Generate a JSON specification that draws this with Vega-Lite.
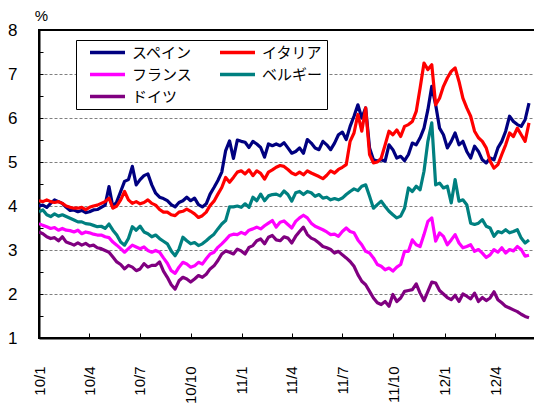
{
  "$schema": "https://vega.github.io/schema/vega-lite/v6.json",
  "width": 500,
  "height": 308,
  "autosize": {"type": "none"},
  "padding": {"left": 39, "top": 30, "right": 0, "bottom": 65},
  "background": "white",
  "config": {
    "view": {"stroke": "black", "strokeWidth": 2},
    "font": "Liberation Sans"
  },
  "data": {
    "values": [
      {"d": "2010-01-01", "スペイン": 4.00, "イタリア": 4.12, "フランス": 3.60, "ベルギー": 3.87, "ドイツ": 3.41},
      {"d": "2010-01-08", "スペイン": 4.02, "イタリア": 4.10, "フランス": 3.56, "ベルギー": 3.91, "ドイツ": 3.37},
      {"d": "2010-01-15", "スペイン": 3.97, "イタリア": 4.14, "フランス": 3.53, "ベルギー": 3.80, "ドイツ": 3.30},
      {"d": "2010-01-22", "スペイン": 4.06, "イタリア": 4.10, "フランス": 3.49, "ベルギー": 3.76, "ドイツ": 3.26},
      {"d": "2010-01-29", "スペイン": 4.14, "イタリア": 4.08, "フランス": 3.51, "ベルギー": 3.82, "ドイツ": 3.28},
      {"d": "2010-02-05", "スペイン": 4.10, "イタリア": 4.10, "フランス": 3.45, "ベルギー": 3.77, "ドイツ": 3.21},
      {"d": "2010-02-12", "スペイン": 4.06, "イタリア": 4.06, "フランス": 3.49, "ベルギー": 3.80, "ドイツ": 3.30},
      {"d": "2010-02-19", "スペイン": 3.97, "イタリア": 4.00, "フランス": 3.45, "ベルギー": 3.76, "ドイツ": 3.18},
      {"d": "2010-02-26", "スペイン": 3.90, "イタリア": 3.97, "フランス": 3.44, "ベルギー": 3.72, "ドイツ": 3.15},
      {"d": "2010-03-05", "スペイン": 3.91, "イタリア": 3.95, "フランス": 3.41, "ベルギー": 3.68, "ドイツ": 3.11},
      {"d": "2010-03-12", "スペイン": 3.87, "イタリア": 3.95, "フランス": 3.45, "ベルギー": 3.64, "ドイツ": 3.16},
      {"d": "2010-03-19", "スペイン": 3.90, "イタリア": 3.97, "フランス": 3.37, "ベルギー": 3.64, "ドイツ": 3.11},
      {"d": "2010-03-26", "スペイン": 3.85, "イタリア": 3.92, "フランス": 3.41, "ベルギー": 3.60, "ドイツ": 3.15},
      {"d": "2010-04-02", "スペイン": 3.87, "イタリア": 3.97, "フランス": 3.39, "ベルギー": 3.59, "ドイツ": 3.09},
      {"d": "2010-04-09", "スペイン": 3.91, "イタリア": 4.00, "フランス": 3.36, "ベルギー": 3.56, "ドイツ": 3.11},
      {"d": "2010-04-16", "スペイン": 3.92, "イタリア": 4.02, "フランス": 3.34, "ベルギー": 3.53, "ドイツ": 3.05},
      {"d": "2010-04-23", "スペイン": 3.97, "イタリア": 4.06, "フランス": 3.34, "ベルギー": 3.54, "ドイツ": 3.03},
      {"d": "2010-04-30", "スペイン": 4.02, "イタリア": 4.10, "フランス": 3.30, "ベルギー": 3.49, "ドイツ": 2.99},
      {"d": "2010-05-07", "スペイン": 4.44, "イタリア": 4.18, "フランス": 3.28, "ベルギー": 3.59, "ドイツ": 2.95},
      {"d": "2010-05-14", "スペイン": 3.97, "イタリア": 3.95, "フランス": 3.18, "ベルギー": 3.45, "ドイツ": 2.84},
      {"d": "2010-05-21", "スペイン": 4.10, "イタリア": 4.00, "フランス": 3.11, "ベルギー": 3.34, "ドイツ": 2.73},
      {"d": "2010-05-28", "スペイン": 4.33, "イタリア": 4.14, "フランス": 3.03, "ベルギー": 3.18, "ドイツ": 2.67},
      {"d": "2010-06-04", "スペイン": 4.56, "イタリア": 4.33, "フランス": 2.95, "ベルギー": 3.11, "ドイツ": 2.57},
      {"d": "2010-06-11", "スペイン": 4.60, "イタリア": 4.14, "フランス": 3.03, "ベルギー": 3.26, "ドイツ": 2.65},
      {"d": "2010-06-18", "スペイン": 4.90, "イタリア": 4.06, "フランス": 3.11, "ベルギー": 3.53, "ドイツ": 2.61},
      {"d": "2010-06-25", "スペイン": 4.48, "イタリア": 4.10, "フランス": 3.07, "ベルギー": 3.45, "ドイツ": 2.53},
      {"d": "2010-07-02", "スペイン": 4.60, "イタリア": 4.05, "フランス": 3.03, "ベルギー": 3.54, "ドイツ": 2.57},
      {"d": "2010-07-09", "スペイン": 4.69, "イタリア": 4.08, "フランス": 3.07, "ベルギー": 3.41, "ドイツ": 2.69},
      {"d": "2010-07-16", "スペイン": 4.73, "イタリア": 4.14, "フランス": 2.99, "ベルギー": 3.37, "ドイツ": 2.61},
      {"d": "2010-07-23", "スペイン": 4.48, "イタリア": 4.06, "フランス": 2.95, "ベルギー": 3.30, "ドイツ": 2.65},
      {"d": "2010-07-30", "スペイン": 4.29, "イタリア": 4.02, "フランス": 2.99, "ベルギー": 3.34, "ドイツ": 2.65},
      {"d": "2010-08-06", "スペイン": 4.20, "イタリア": 3.92, "フランス": 2.95, "ベルギー": 3.26, "ドイツ": 2.73},
      {"d": "2010-08-13", "スペイン": 4.17, "イタリア": 3.86, "フランス": 2.82, "ベルギー": 3.20, "ドイツ": 2.52},
      {"d": "2010-08-20", "スペイン": 4.12, "イタリア": 3.86, "フランス": 2.70, "ベルギー": 3.14, "ドイツ": 2.38},
      {"d": "2010-08-27", "スペイン": 4.03, "イタリア": 3.80, "フランス": 2.53, "ベルギー": 2.98, "ドイツ": 2.21},
      {"d": "2010-09-03", "スペイン": 3.98, "イタリア": 3.78, "フランス": 2.47, "ベルギー": 2.87, "ドイツ": 2.11},
      {"d": "2010-09-10", "スペイン": 4.08, "イタリア": 3.86, "フランス": 2.61, "ベルギー": 3.02, "ドイツ": 2.30},
      {"d": "2010-09-17", "スペイン": 4.12, "イタリア": 3.88, "フランス": 2.72, "ベルギー": 3.29, "ドイツ": 2.38},
      {"d": "2010-09-24", "スペイン": 4.20, "イタリア": 3.93, "フランス": 2.68, "ベルギー": 3.21, "ドイツ": 2.34},
      {"d": "2010-10-01", "スペイン": 4.12, "イタリア": 3.88, "フランス": 2.61, "ベルギー": 3.14, "ドイツ": 2.27},
      {"d": "2010-10-08", "スペイン": 4.18, "イタリア": 3.82, "フランス": 2.64, "ベルギー": 3.17, "ドイツ": 2.34},
      {"d": "2010-10-15", "スペイン": 4.03, "イタリア": 3.74, "フランス": 2.72, "ベルギー": 3.10, "ドイツ": 2.42},
      {"d": "2010-10-22", "スペイン": 3.98, "イタリア": 3.78, "フランス": 2.68, "ベルギー": 3.14, "ドイツ": 2.38},
      {"d": "2010-10-29", "スペイン": 4.05, "イタリア": 3.86, "フランス": 2.80, "ベルギー": 3.21, "ドイツ": 2.45},
      {"d": "2010-11-05", "スペイン": 4.27, "イタリア": 4.01, "フランス": 2.91, "ベルギー": 3.29, "ドイツ": 2.57},
      {"d": "2010-11-12", "スペイン": 4.42, "イタリア": 4.11, "フランス": 2.95, "ベルギー": 3.36, "ドイツ": 2.64},
      {"d": "2010-11-19", "スペイン": 4.58, "イタリア": 4.27, "フランス": 3.06, "ベルギー": 3.48, "ドイツ": 2.76},
      {"d": "2010-11-26", "スペイン": 4.77, "イタリア": 4.42, "フランス": 3.14, "ベルギー": 3.59, "ドイツ": 2.91},
      {"d": "2010-12-03", "スペイン": 5.26, "イタリア": 4.65, "フランス": 3.23, "ベルギー": 3.67, "ドイツ": 2.98},
      {"d": "2010-12-10", "スペイン": 5.48, "イタリア": 4.54, "フランス": 3.33, "ベルギー": 3.98, "ドイツ": 2.95},
      {"d": "2010-12-17", "スペイン": 5.08, "イタリア": 4.65, "フランス": 3.36, "ベルギー": 3.98, "ドイツ": 2.91},
      {"d": "2010-12-24", "スペイン": 5.50, "イタリア": 4.77, "フランス": 3.35, "ベルギー": 4.00, "ドイツ": 3.02},
      {"d": "2010-12-31", "スペイン": 5.47, "イタリア": 4.80, "フランス": 3.40, "ベルギー": 3.97, "ドイツ": 2.98},
      {"d": "2011-01-07", "スペイン": 5.45, "イタリア": 4.73, "フランス": 3.36, "ベルギー": 4.05, "ドイツ": 2.91},
      {"d": "2011-01-14", "スペイン": 5.33, "イタリア": 4.82, "フランス": 3.45, "ベルギー": 3.97, "ドイツ": 3.06},
      {"d": "2011-01-21", "スペイン": 5.47, "イタリア": 4.69, "フランス": 3.48, "ベルギー": 4.20, "ドイツ": 3.10},
      {"d": "2011-01-28", "スペイン": 5.41, "イタリア": 4.80, "フランス": 3.52, "ベルギー": 4.12, "ドイツ": 3.21},
      {"d": "2011-02-04", "スペイン": 5.33, "イタリア": 4.74, "フランス": 3.48, "ベルギー": 4.27, "ドイツ": 3.25},
      {"d": "2011-02-11", "スペイン": 5.11, "イタリア": 4.61, "フランス": 3.55, "ベルギー": 4.12, "ドイツ": 3.14},
      {"d": "2011-02-18", "スペイン": 5.41, "イタリア": 4.77, "フランス": 3.61, "ベルギー": 4.23, "ドイツ": 3.29},
      {"d": "2011-02-25", "スペイン": 5.37, "イタリア": 4.82, "フランス": 3.67, "ベルギー": 4.26, "ドイツ": 3.33},
      {"d": "2011-03-04", "スペイン": 5.41, "イタリア": 4.88, "フランス": 3.52, "ベルギー": 4.27, "ドイツ": 3.23},
      {"d": "2011-03-11", "スペイン": 5.37, "イタリア": 4.92, "フランス": 3.63, "ベルギー": 4.23, "ドイツ": 3.21},
      {"d": "2011-03-18", "スペイン": 5.44, "イタリア": 4.90, "フランス": 3.66, "ベルギー": 4.34, "ドイツ": 3.30},
      {"d": "2011-03-25", "スペイン": 5.32, "イタリア": 4.83, "フランス": 3.58, "ベルギー": 4.26, "ドイツ": 3.27},
      {"d": "2011-04-01", "スペイン": 5.20, "イタリア": 4.75, "フランス": 3.50, "ベルギー": 4.11, "ドイツ": 3.16},
      {"d": "2011-04-08", "スペイン": 5.24, "イタリア": 4.71, "フランス": 3.65, "ベルギー": 4.30, "ドイツ": 3.31},
      {"d": "2011-04-15", "スペイン": 5.32, "イタリア": 4.77, "フランス": 3.73, "ベルギー": 4.33, "ドイツ": 3.42},
      {"d": "2011-04-22", "スペイン": 5.20, "イタリア": 4.71, "フランス": 3.79, "ベルギー": 4.26, "ドイツ": 3.52},
      {"d": "2011-04-29", "スペイン": 5.51, "イタリア": 4.80, "フランス": 3.73, "ベルギー": 4.33, "ドイツ": 3.35},
      {"d": "2011-05-06", "スペイン": 5.43, "イタリア": 4.75, "フランス": 3.61, "ベルギー": 4.30, "ドイツ": 3.27},
      {"d": "2011-05-13", "スペイン": 5.32, "イタリア": 4.71, "フランス": 3.54, "ベルギー": 4.22, "ドイツ": 3.23},
      {"d": "2011-05-20", "スペイン": 5.28, "イタリア": 4.67, "フランス": 3.50, "ベルギー": 4.26, "ドイツ": 3.16},
      {"d": "2011-05-27", "スペイン": 5.47, "イタリア": 4.62, "フランス": 3.46, "ベルギー": 4.18, "ドイツ": 3.08},
      {"d": "2011-06-03", "スペイン": 5.39, "イタリア": 4.70, "フランス": 3.41, "ベルギー": 4.20, "ドイツ": 3.05},
      {"d": "2011-06-10", "スペイン": 5.28, "イタリア": 4.80, "フランス": 3.35, "ベルギー": 4.14, "ドイツ": 3.01},
      {"d": "2011-06-17", "スペイン": 5.43, "イタリア": 4.75, "フランス": 3.36, "ベルギー": 4.17, "ドイツ": 2.93},
      {"d": "2011-06-24", "スペイン": 5.62, "イタリア": 4.83, "フランス": 3.31, "ベルギー": 4.14, "ドイツ": 2.97},
      {"d": "2011-07-01", "スペイン": 5.68, "イタリア": 4.88, "フランス": 3.42, "ベルギー": 4.18, "ドイツ": 2.89},
      {"d": "2011-07-08", "スペイン": 5.51, "イタリア": 4.94, "フランス": 3.50, "ベルギー": 4.26, "ドイツ": 2.82},
      {"d": "2011-07-15", "スペイン": 5.81, "イタリア": 5.47, "フランス": 3.42, "ベルギー": 4.33, "ドイツ": 2.74},
      {"d": "2011-07-22", "スペイン": 6.04, "イタリア": 5.66, "フランス": 3.39, "ベルギー": 4.39, "ドイツ": 2.63},
      {"d": "2011-07-29", "スペイン": 6.30, "イタリア": 6.08, "フランス": 3.23, "ベルギー": 4.35, "ドイツ": 2.44},
      {"d": "2011-08-05", "スペイン": 6.00, "イタリア": 5.70, "フランス": 3.12, "ベルギー": 4.45, "ドイツ": 2.29},
      {"d": "2011-08-12", "スペイン": 6.23, "イタリア": 6.23, "フランス": 2.97, "ベルギー": 4.48, "ドイツ": 2.21},
      {"d": "2011-08-19", "スペイン": 5.32, "イタリア": 5.17, "フランス": 2.93, "ベルギー": 4.22, "ドイツ": 2.06},
      {"d": "2011-08-26", "スペイン": 5.05, "イタリア": 4.98, "フランス": 2.82, "ベルギー": 3.95, "ドイツ": 1.91},
      {"d": "2011-09-02", "スペイン": 5.02, "イタリア": 5.00, "フランス": 2.67, "ベルギー": 4.03, "ドイツ": 1.80},
      {"d": "2011-09-09", "スペイン": 5.05, "イタリア": 5.09, "フランス": 2.63, "ベルギー": 4.11, "ドイツ": 1.76},
      {"d": "2011-09-16", "スペイン": 5.02, "イタリア": 5.39, "フランス": 2.55, "ベルギー": 3.99, "ドイツ": 1.83},
      {"d": "2011-09-23", "スペイン": 5.39, "イタリア": 5.70, "フランス": 2.59, "ベルギー": 3.88, "ドイツ": 1.72},
      {"d": "2011-09-30", "スペイン": 5.28, "イタリア": 5.62, "フランス": 2.52, "ベルギー": 3.80, "ドイツ": 1.99},
      {"d": "2011-10-07", "スペイン": 5.09, "イタリア": 5.73, "フランス": 2.61, "ベルギー": 3.73, "ドイツ": 1.83},
      {"d": "2011-10-14", "スペイン": 5.13, "イタリア": 5.58, "フランス": 2.67, "ベルギー": 3.77, "ドイツ": 1.91},
      {"d": "2011-10-21", "スペイン": 5.03, "イタリア": 5.81, "フランス": 2.97, "ベルギー": 3.95, "ドイツ": 2.06},
      {"d": "2011-10-28", "スペイン": 5.17, "イタリア": 5.85, "フランス": 2.97, "ベルギー": 4.41, "ドイツ": 2.08},
      {"d": "2011-11-04", "スペイン": 5.43, "イタリア": 5.92, "フランス": 3.23, "ベルギー": 4.33, "ドイツ": 2.10},
      {"d": "2011-11-11", "スペイン": 5.39, "イタリア": 6.15, "フランス": 3.12, "ベルギー": 4.45, "ドイツ": 2.23},
      {"d": "2011-11-18", "スペイン": 5.55, "イタリア": 6.68, "フランス": 3.08, "ベルギー": 4.37, "ドイツ": 2.02},
      {"d": "2011-11-25", "スペイン": 5.77, "イタリア": 7.25, "フランス": 3.35, "ベルギー": 4.79, "ドイツ": 1.85},
      {"d": "2011-12-02", "スペイン": 6.19, "イタリア": 7.10, "フランス": 3.65, "ベルギー": 5.47, "ドイツ": 2.06},
      {"d": "2011-12-09", "スペイン": 6.72, "イタリア": 7.21, "フランス": 3.73, "ベルギー": 5.89, "ドイツ": 2.27},
      {"d": "2011-12-16", "スペイン": 6.30, "イタリア": 6.30, "フランス": 3.20, "ベルギー": 4.48, "ドイツ": 2.25},
      {"d": "2011-12-23", "スペイン": 5.77, "イタリア": 6.45, "フランス": 3.39, "ベルギー": 4.52, "ドイツ": 2.08},
      {"d": "2011-12-30", "スペイン": 5.62, "イタリア": 6.72, "フランス": 3.31, "ベルギー": 4.41, "ドイツ": 2.00},
      {"d": "2012-01-06", "スペイン": 5.32, "イタリア": 6.91, "フランス": 3.12, "ベルギー": 4.45, "ドイツ": 1.92},
      {"d": "2012-01-13", "スペイン": 5.47, "イタリア": 7.06, "フランス": 3.23, "ベルギー": 4.07, "ドイツ": 1.87},
      {"d": "2012-01-20", "スペイン": 5.66, "イタリア": 7.14, "フランス": 3.35, "ベルギー": 4.60, "ドイツ": 1.97},
      {"d": "2012-01-27", "スペイン": 5.39, "イタリア": 6.83, "フランス": 3.16, "ベルギー": 4.11, "ドイツ": 1.83},
      {"d": "2012-02-03", "スペイン": 5.47, "イタリア": 6.45, "フランス": 3.05, "ベルギー": 4.14, "ドイツ": 2.00},
      {"d": "2012-02-10", "スペイン": 5.24, "イタリア": 6.23, "フランス": 3.08, "ベルギー": 4.03, "ドイツ": 1.95},
      {"d": "2012-02-17", "スペイン": 5.09, "イタリア": 6.04, "フランス": 3.12, "ベルギー": 3.61, "ドイツ": 1.89},
      {"d": "2012-02-24", "スペイン": 5.36, "イタリア": 5.70, "フランス": 2.97, "ベルギー": 3.58, "ドイツ": 2.02},
      {"d": "2012-03-02", "スペイン": 5.24, "イタリア": 5.55, "フランス": 3.01, "ベルギー": 3.61, "ドイツ": 1.83},
      {"d": "2012-03-09", "スペイン": 5.05, "イタリア": 5.47, "フランス": 2.93, "ベルギー": 3.69, "ドイツ": 1.92},
      {"d": "2012-03-16", "スペイン": 4.98, "イタリア": 5.32, "フランス": 2.83, "ベルギー": 3.54, "ドイツ": 1.85},
      {"d": "2012-03-23", "スペイン": 5.09, "イタリア": 5.02, "フランス": 2.89, "ベルギー": 3.50, "ドイツ": 1.91},
      {"d": "2012-03-30", "スペイン": 5.05, "イタリア": 4.86, "フランス": 3.01, "ベルギー": 3.31, "ドイツ": 2.05},
      {"d": "2012-04-06", "スペイン": 5.32, "イタリア": 4.94, "フランス": 2.95, "ベルギー": 3.42, "ドイツ": 1.87},
      {"d": "2012-04-13", "スペイン": 5.47, "イタリア": 5.17, "フランス": 3.05, "ベルギー": 3.39, "ドイツ": 1.80},
      {"d": "2012-04-20", "スペイン": 5.70, "イタリア": 5.39, "フランス": 2.93, "ベルギー": 3.46, "ドイツ": 1.72},
      {"d": "2012-04-27", "スペイン": 6.04, "イタリア": 5.66, "フランス": 3.01, "ベルギー": 3.39, "ドイツ": 1.68},
      {"d": "2012-05-04", "スペイン": 5.92, "イタリア": 5.58, "フランス": 2.98, "ベルギー": 3.42, "ドイツ": 1.64},
      {"d": "2012-05-11", "スペイン": 5.85, "イタリア": 5.77, "フランス": 3.08, "ベルギー": 3.46, "ドイツ": 1.60},
      {"d": "2012-05-18", "スペイン": 5.81, "イタリア": 5.62, "フランス": 3.01, "ベルギー": 3.27, "ドイツ": 1.54},
      {"d": "2012-05-25", "スペイン": 5.96, "イタリア": 5.47, "フランス": 2.86, "ベルギー": 3.16, "ドイツ": 1.49},
      {"d": "2012-06-01", "スペイン": 6.34, "イタリア": 5.89, "フランス": 2.88, "ベルギー": 3.23, "ドイツ": 1.46}
    ]
  },
  "transform": [
    {"fold": ["スペイン", "イタリア", "フランス", "ベルギー", "ドイツ"], "as": ["国", "利回り"]}
  ],
  "mark": {"type": "line", "strokeWidth": 3.2, "strokeJoin": "round", "clip": true},
  "encoding": {
    "x": {
      "field": "d",
      "type": "temporal",
      "scale": {
        "type": "utc",
        "domain": [
          {"year": 2010, "month": 1, "date": 1, "utc": true},
          {"year": 2012, "month": 6, "date": 19, "utc": true}
        ]
      },
      "axis": {
        "title": null,
        "values": [
          {"year": 2010, "month": 1, "date": 1, "utc": true},
          {"year": 2010, "month": 4, "date": 1, "utc": true},
          {"year": 2010, "month": 7, "date": 1, "utc": true},
          {"year": 2010, "month": 10, "date": 1, "utc": true},
          {"year": 2011, "month": 1, "date": 1, "utc": true},
          {"year": 2011, "month": 4, "date": 1, "utc": true},
          {"year": 2011, "month": 7, "date": 1, "utc": true},
          {"year": 2011, "month": 10, "date": 1, "utc": true},
          {"year": 2012, "month": 1, "date": 1, "utc": true},
          {"year": 2012, "month": 4, "date": 1, "utc": true}
        ],
        "labelExpr": "utcFormat(datum.value, '%y/%-m')",
        "labelAngle": 270,
        "labelFontSize": 15,
        "labelColor": "black",
        "labelPadding": 33,
        "labelOverlap": false,
        "labelFlush": false,
        "tickSize": -5,
        "tickColor": "black",
        "tickWidth": 1,
        "domainColor": "black",
        "domainWidth": 2,
        "grid": false
      }
    },
    "y": {
      "field": "利回り",
      "type": "quantitative",
      "scale": {"domain": [1, 8], "nice": false, "zero": false},
      "axis": {
        "values": [1, 1.5, 2, 2.5, 3, 3.5, 4, 4.5, 5, 5.5, 6, 6.5, 7, 7.5, 8],
        "labelExpr": "datum.value % 1 === 0 ? format(datum.value, 'd') : ''",
        "labelFontSize": 17,
        "labelColor": "black",
        "labelPadding": 26,
        "labelOverlap": false,
        "labelFlush": false,
        "tickSize": -4,
        "tickColor": "black",
        "domainColor": "black",
        "domainWidth": 2,
        "grid": true,
        "gridColor": "#808080",
        "gridDash": [3, 2],
        "gridWidth": 1,
        "gridOpacity": {
          "condition": {"test": "datum.value % 1 === 0 && datum.value > 1 && datum.value < 8", "value": 1},
          "value": 0
        },
        "title": "%",
        "titleAngle": 0,
        "titleX": 2,
        "titleY": -10,
        "titleAlign": "center",
        "titleBaseline": "alphabetic",
        "titleFontSize": 15,
        "titleFontWeight": "normal",
        "titleColor": "black"
      }
    },
    "color": {
      "field": "国",
      "type": "nominal",
      "scale": {
        "domain": ["スペイン", "イタリア", "フランス", "ベルギー", "ドイツ"],
        "range": ["#000080", "#FF0000", "#FF00FF", "#008080", "#800080"]
      },
      "legend": {
        "orient": "none",
        "legendX": 37,
        "legendY": 10,
        "direction": "horizontal",
        "columns": 2,
        "title": null,
        "symbolType": "stroke",
        "symbolSize": 1225,
        "symbolStrokeWidth": 3.5,
        "symbolOffset": 8,
        "clipHeight": 17,
        "labelFont": "Noto Sans CJK JP",
        "labelFontSize": 15,
        "labelColor": "black",
        "labelOffset": 5,
        "columnPadding": 17,
        "rowPadding": 5,
        "padding": 4,
        "strokeColor": "black",
        "fillColor": "white"
      }
    }
  }
}
